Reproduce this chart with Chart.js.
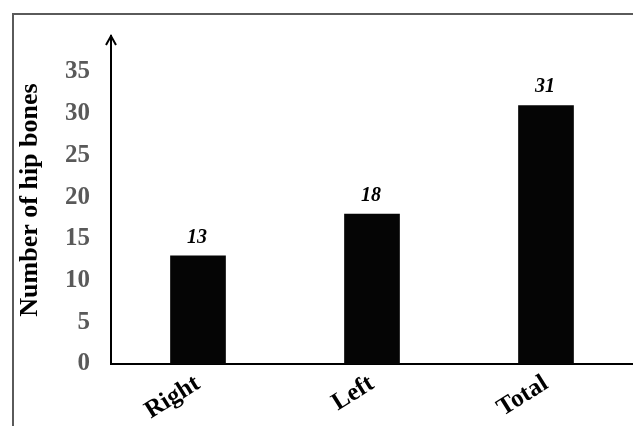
<!DOCTYPE html>
<html>
<head>
<meta charset="utf-8">
<script src="https://cdn.jsdelivr.net/npm/chart.js@4"></script>
<style>
    html, body { margin: 0; padding: 0; background: #fff; overflow: hidden; }
    #wrap { position: relative; width: 633px; height: 426px; }
    #frame {
        position: absolute; left: 12px; top: 13px; right: -10px; bottom: -10px;
        border-left: 2px solid #5a5a5a; border-top: 2px solid #5a5a5a;
    }
    #chartHip { position: absolute; left: 0; top: 0; }
</style>
</head>
<body>
<div id="wrap">
    <div id="frame"></div>
    <canvas id="chartHip" width="633" height="426"></canvas>
</div>
<script>
const categories = ['Right', 'Left', 'Total'];
const hipBones = [13, 18, 31];
const yTicks = [0, 5, 10, 15, 20, 25, 30, 35];
const yTop = 39.3; // axis runs a bit past 35 up to the arrow

const serif = "'Liberation Serif', 'Times New Roman', serif";

// value labels over the bars
const barLabels = {
    id: 'barLabels',
    afterDatasetsDraw(chart) {
        const ctx = chart.ctx;
        const meta = chart.getDatasetMeta(0);
        ctx.save();
        ctx.font = 'italic bold 20px ' + serif;
        ctx.fillStyle = '#000';
        ctx.textAlign = 'center';
        ctx.textBaseline = 'bottom';
        meta.data.forEach((bar, i) => {
            ctx.fillText(String(hipBones[i]), bar.x - 1, bar.y - 8);
        });
        ctx.restore();
    }
};

// open arrow head on top of the y axis
const axisArrow = {
    id: 'axisArrow',
    afterDraw(chart) {
        const ctx = chart.ctx;
        const x = chart.scales.y.right;
        const top = chart.chartArea.top;
        ctx.save();
        ctx.strokeStyle = '#000';
        ctx.lineWidth = 2;
        ctx.beginPath();
        ctx.moveTo(x - 5, top + 9);
        ctx.lineTo(x, top);
        ctx.lineTo(x + 5, top + 9);
        ctx.stroke();
        ctx.restore();
    }
};

new Chart(document.getElementById('chartHip'), {
    type: 'bar',
    data: {
        labels: categories,
        datasets: [{
            data: hipBones,
            backgroundColor: '#050505',
            categoryPercentage: 1,
            barPercentage: 0.32,
        }]
    },
    options: {
        responsive: false,
        animation: false,
        layout: { padding: { top: 24, right: 0, bottom: 0, left: 0 } },
        plugins: { legend: { display: false }, tooltip: { enabled: false } },
        scales: {
            x: {
                grid: { display: false, drawTicks: false },
                border: { color: '#000', width: 2 },
                ticks: {
                    color: '#000',
                    font: { family: serif, size: 25, weight: 'bold' },
                    minRotation: 32,
                    maxRotation: 32,
                    padding: 5,
                },
                afterFit(scale) { scale.height = 62; },
            },
            y: {
                min: 0,
                max: yTop,
                grid: { display: false, drawTicks: false },
                border: { color: '#000', width: 2 },
                ticks: {
                    color: '#595959',
                    font: { family: serif, size: 25, weight: 'bold' },
                    padding: 21,
                },
                afterBuildTicks(scale) {
                    scale.ticks = yTicks.map(v => ({ value: v }));
                },
                title: {
                    display: true,
                    text: 'Number of hip bones',
                    color: '#000',
                    font: { family: serif, size: 26, weight: 'bold' },
                    padding: { top: 15, bottom: 0 },
                },
                afterFit(scale) { scale.width = 111; },
            }
        }
    },
    plugins: [barLabels, axisArrow]
});
</script>
</body>
</html>
